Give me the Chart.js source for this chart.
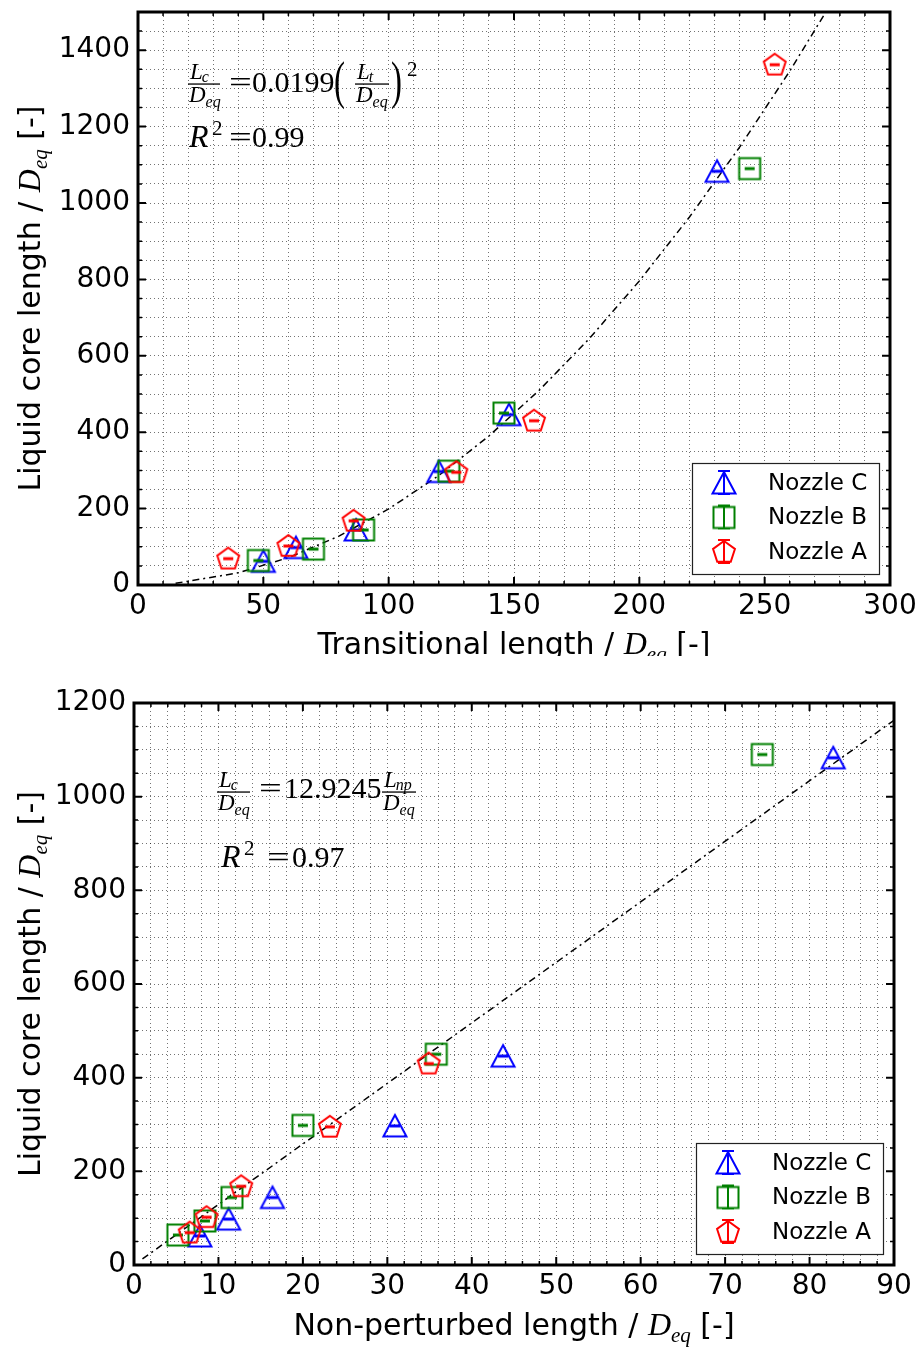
<!DOCTYPE html>
<html><head><meta charset="utf-8">
<script src="https://cdn.jsdelivr.net/npm/chart.js@4.4.0/dist/chart.umd.min.js"></script>
<style>
html,body{margin:0;padding:0;background:#fff;}
#wrap{position:relative;width:923px;height:1347px;overflow:hidden;background:#fff;}
.c{position:absolute;left:0;}
</style></head><body>
<div id="wrap">
<div class="c" style="top:0;"><canvas id="top" width="923" height="656"></canvas></div>
<div class="c" style="top:656px;"><canvas id="bot" width="923" height="691"></canvas></div>
</div>
<script>
// ---------------- DATA ----------------
const nozzleNames = ['Nozzle C', 'Nozzle B', 'Nozzle A'];
// liquid core length / D_eq (shared by both panels)
const coreC = [62, 98, 144, 297, 446, 1083];
const coreB = [64, 94, 144, 298, 450, 1090];
const coreA = [69, 102, 168, 295, 430, 1362];
// transitional length / D_eq (top panel)
const transC = [50, 63, 87, 120, 148, 231];
const transB = [48, 70, 90, 124, 146, 244];
const transA = [36, 60, 86, 127, 158, 254];
// non-perturbed length / D_eq (bottom panel)
const npC = [7.8, 11.2, 16.4, 30.9, 43.7, 82.8];
const npB = [5.2, 8.4, 11.6, 20.0, 35.8, 74.4];
const npA = [6.6, 8.6, 12.7, 23.2, 34.9];
// fit curves
const fitTopX = [15, 40, 60, 80, 100, 120, 140, 160, 180, 200, 220, 240, 260, 280];
const fitTopY = [4.5, 31.8, 71.6, 127.4, 199, 286.6, 390, 509.4, 644.8, 796, 963.2, 1146.2, 1345.2, 1560.2];
const fitBotX = [1, 90];
const fitBotY = [12.9, 1163.2];
// tick labels
const topXTicks = [0, 50, 100, 150, 200, 250, 300];
const topYTicks = [0, 200, 400, 600, 800, 1000, 1200, 1400];
const botXTicks = [0, 10, 20, 30, 40, 50, 60, 70, 80, 90];
const botYTicks = [0, 200, 400, 600, 800, 1000, 1200];

// ---------------- helpers ----------------
const zip = (xs, ys) => xs.map((x, i) => ({x: x, y: ys[i]}));
const COLORS = {C: '#0000ff', B: '#008000', A: '#ff0000'};
const SANS = '"DejaVu Sans"';
const SERIF = '"Liberation Serif"';

function makeMarker(type, color, legend) {
  const c = document.createElement('canvas');
  c.width = 40; c.height = 40;
  const g = c.getContext('2d');
  const cx = 20, cy = 20;
  g.strokeStyle = color; g.lineWidth = 2; g.lineJoin = 'miter';
  g.beginPath();
  if (type === 'tri') {
    g.moveTo(cx, cy - 11); g.lineTo(cx + 11.5, cy + 10.5); g.lineTo(cx - 11.5, cy + 10.5); g.closePath();
  } else if (type === 'sq') {
    g.rect(cx - 10.5, cy - 10.5, 21, 21);
  } else {
    const r = 11.5;
    for (let k = 0; k < 5; k++) {
      const a = -Math.PI / 2 + k * 2 * Math.PI / 5;
      const px = cx + r * Math.cos(a), py = cy + r * Math.sin(a) + 0.5;
      if (k === 0) g.moveTo(px, py); else g.lineTo(px, py);
    }
    g.closePath();
  }
  g.stroke();
  g.beginPath();
  if (!legend) {
    g.lineWidth = 3;
    g.moveTo(cx - 5, cy); g.lineTo(cx + 5, cy);
  } else {
    g.lineWidth = 2;
    g.moveTo(cx, cy - 12); g.lineTo(cx, cy + 11);
    g.moveTo(cx - 6, cy - 12); g.lineTo(cx + 6, cy - 12);
    g.moveTo(cx - 6, cy + 11); g.lineTo(cx + 6, cy + 11);
  }
  g.stroke();
  return c;
}
const MK = {
  C: makeMarker('tri', COLORS.C, false), B: makeMarker('sq', COLORS.B, false), A: makeMarker('pent', COLORS.A, false),
  LC: makeMarker('tri', COLORS.C, true), LB: makeMarker('sq', COLORS.B, true), LA: makeMarker('pent', COLORS.A, true)
};

function richWidth(ctx, parts) {
  let w = 0;
  parts.forEach(p => { ctx.font = p.font; w += ctx.measureText(p.t).width + (p.dx || 0); });
  return w;
}
function drawRich(ctx, parts, x, y, align) {
  let cx = x;
  if (align === 'center') cx = x - richWidth(ctx, parts) / 2;
  parts.forEach(p => {
    ctx.font = p.font;
    ctx.fillText(p.t, cx + (p.dx || 0), y + (p.dy || 0));
    cx += ctx.measureText(p.t).width + (p.dx || 0);
  });
}

// frame, inward ticks, legend, titles, equations
const decorPlugin = {
  id: 'decor',
  afterDraw(chart, args, o) {
    const ctx = chart.ctx;
    const a = chart.chartArea;
    const xs = chart.scales.x, ys = chart.scales.y;
    ctx.save();
    ctx.strokeStyle = '#000';
    xs.ticks.forEach(t => {
      const major = o.xMajor.indexOf(Math.round(t.value * 1000) / 1000) >= 0;
      const len = major ? 8 : 4;
      ctx.lineWidth = major ? 2 : 1.5;
      const px = xs.getPixelForValue(t.value);
      ctx.beginPath();
      ctx.moveTo(px, a.bottom); ctx.lineTo(px, a.bottom - len);
      ctx.moveTo(px, a.top); ctx.lineTo(px, a.top + len);
      ctx.stroke();
    });
    ys.ticks.forEach(t => {
      const major = o.yMajor.indexOf(Math.round(t.value)) >= 0;
      const len = major ? 8 : 4;
      ctx.lineWidth = major ? 2 : 1.5;
      const py = ys.getPixelForValue(t.value);
      ctx.beginPath();
      ctx.moveTo(a.left, py); ctx.lineTo(a.left + len, py);
      ctx.moveTo(a.right, py); ctx.lineTo(a.right - len, py);
      ctx.stroke();
    });
    ctx.lineWidth = 3;
    ctx.strokeRect(a.left, a.top, a.right - a.left, a.bottom - a.top);

    // legend
    const lw = 187, lh = 111;
    const lx = a.right - 11 - lw, ly = a.bottom - 11 - lh;
    ctx.fillStyle = '#fff';
    ctx.fillRect(lx, ly, lw, lh);
    ctx.lineWidth = 1.2; ctx.strokeStyle = '#222';
    ctx.strokeRect(lx + 0.5, ly + 0.5, lw, lh);
    const lm = [MK.LC, MK.LB, MK.LA];
    ctx.fillStyle = '#000';
    ctx.textBaseline = 'middle'; ctx.textAlign = 'left';
    ctx.font = '23px ' + SANS;
    nozzleNames.forEach((n, i) => {
      const ry = ly + 20 + i * 34.5;
      ctx.drawImage(lm[i], lx + 32 - 20, ry - 20);
      ctx.fillText(n, lx + 76, ry + 1);
    });

    // axis titles
    ctx.textBaseline = 'alphabetic';
    const titleFont = '30px ' + SANS;
    const dFont = 'italic 32px ' + SERIF;
    const subFont = 'italic 21px ' + SERIF;
    const xParts = [
      {t: o.xTitle + ' / ', font: titleFont},
      {t: 'D', font: dFont},
      {t: 'eq', font: subFont, dy: 7},
      {t: ' [-]', font: titleFont}
    ];
    drawRich(ctx, xParts, (a.left + a.right) / 2, o.xTitleY, 'center');
    const yParts = [
      {t: 'Liquid core length / ', font: titleFont},
      {t: 'D', font: dFont},
      {t: 'eq', font: subFont, dy: 7},
      {t: ' [-]', font: titleFont}
    ];
    ctx.save();
    ctx.translate(o.yTitleX, (a.top + a.bottom) / 2);
    ctx.rotate(-Math.PI / 2);
    drawRich(ctx, yParts, 0, 0, 'center');
    ctx.restore();

    o.drawEq(ctx, a);
    ctx.restore();
  }
};

function frac(ctx, x, barY, w, num, numSub, den, denSub) {
  ctx.fillStyle = '#000';
  ctx.fillRect(x, barY - 0.6, w, 1.3);
  ctx.font = 'italic 23px ' + SERIF;
  ctx.fillText(num, x + 2, barY - 5);
  const nw = ctx.measureText(num).width;
  ctx.fillText(den, x + 1, barY + 18);
  const dw = ctx.measureText(den).width;
  ctx.font = 'italic 16px ' + SERIF;
  ctx.fillText(numSub, x + 2 + nw - 1, barY - 2);
  ctx.fillText(denSub, x + 1 + dw, barY + 23);
}
function eqSign(ctx, x, baseY) {
  ctx.save();
  ctx.translate(x, baseY);
  ctx.scale(1.35, 1);
  ctx.font = '30px ' + SERIF;
  ctx.fillText('=', 0, 0);
  ctx.restore();
}
function paren(ctx, ch, x, baseY) {
  ctx.save();
  ctx.translate(x, baseY);
  ctx.scale(1, 1.6);
  ctx.font = '33px ' + SERIF;
  ctx.fillText(ch, 0, 0);
  ctx.restore();
}

function eqTop(ctx, a) {
  // positions relative to the plot area (left 138, top 8)
  const X = a.left - 138, Y = a.top - 8;
  const bar = Y + 80;
  ctx.fillStyle = '#000';
  ctx.textAlign = 'left'; ctx.textBaseline = 'alphabetic';
  frac(ctx, X + 188, bar, 32, 'L', 'c', 'D', 'eq');
  eqSign(ctx, X + 229, bar + 8);
  ctx.font = '30px ' + SERIF;
  ctx.fillText('0.0199', X + 252, bar + 8);
  paren(ctx, '(', X + 334, bar + 14);
  frac(ctx, X + 355, bar, 34, 'L', 't', 'D', 'eq');
  paren(ctx, ')', X + 391, bar + 14);
  ctx.font = '21px ' + SERIF;
  ctx.fillText('2', X + 407, bar - 8);
  // R^2
  ctx.font = 'italic 32px ' + SERIF;
  ctx.fillText('R', X + 189, Y + 143);
  ctx.font = '21px ' + SERIF;
  ctx.fillText('2', X + 212, Y + 131);
  eqSign(ctx, X + 229, Y + 143);
  ctx.font = '30px ' + SERIF;
  ctx.fillText('0.99', X + 252, Y + 143);
}
function eqBot(ctx, a) {
  // positions relative to the plot area (left 134, top 703 on the page)
  const X = a.left - 134, Y = a.top - 47;
  const bar = Y + 136;
  ctx.fillStyle = '#000';
  ctx.textAlign = 'left'; ctx.textBaseline = 'alphabetic';
  frac(ctx, X + 217, bar, 33, 'L', 'c', 'D', 'eq');
  eqSign(ctx, X + 259, bar + 6);
  ctx.font = '30px ' + SERIF;
  ctx.fillText('12.9245', X + 284, bar + 6);
  frac(ctx, X + 382, bar, 34, 'L', 'np', 'D', 'eq');
  ctx.font = 'italic 32px ' + SERIF;
  ctx.fillText('R', X + 221, Y + 211);
  ctx.font = '21px ' + SERIF;
  ctx.fillText('2', X + 244, Y + 199);
  eqSign(ctx, X + 267, Y + 211);
  ctx.font = '30px ' + SERIF;
  ctx.fillText('0.97', X + 292, Y + 211);
}

function makeChart(id, cfg) {
  const tickFont = {family: 'DejaVu Sans', size: 28};
  const gridCfg = {color: 'rgba(0,0,0,0.55)', lineWidth: 1, drawTicks: false};
  return new Chart(document.getElementById(id), {
    type: 'scatter',
    data: {
      datasets: [
        {label: 'Nozzle A', data: cfg.A, pointStyle: MK.A, pointRadius: 11, showLine: false},
        {label: 'Nozzle B', data: cfg.B, pointStyle: MK.B, pointRadius: 11, showLine: false},
        {label: 'Nozzle C', data: cfg.C, pointStyle: MK.C, pointRadius: 11, showLine: false},
        {label: 'fit', data: cfg.fit, showLine: true, pointRadius: 0, borderColor: '#000', borderWidth: 1.5,
         borderDash: [7, 4, 2, 4], fill: false, tension: 0}
      ]
    },
    options: {
      responsive: false, animation: false, devicePixelRatio: 1,
      layout: {padding: cfg.padding},
      plugins: {legend: {display: false}, tooltip: {enabled: false},
        decor: {xMajor: cfg.xMajor, yMajor: cfg.yMajor, xTitle: cfg.xTitle, xTitleY: cfg.xTitleY, yTitleX: cfg.yTitleX, drawEq: cfg.eq}},
      scales: {
        x: {type: 'linear', min: cfg.xMin, max: cfg.xMax,
            grid: Object.assign({}, gridCfg), border: {display: false, dash: [1, 3]},
            ticks: {stepSize: cfg.xStep, autoSkip: false, maxRotation: 0, padding: 5, color: '#000', font: tickFont,
                    callback: v => cfg.xMajor.indexOf(Math.round(v * 1000) / 1000) >= 0 ? String(Math.round(v)) : ''},
            afterFit: s => { s.height = cfg.xAxisH; s.paddingLeft = 0; s.paddingRight = 0; }},
        y: {type: 'linear', min: cfg.yMin, max: cfg.yMax,
            grid: Object.assign({}, gridCfg), border: {display: false, dash: [1, 3]},
            ticks: {stepSize: cfg.yStep, autoSkip: false, padding: 8, color: '#000', font: tickFont,
                    callback: v => cfg.yMajor.indexOf(Math.round(v)) >= 0 ? String(Math.round(v)) : ''},
            afterFit: s => { s.width = cfg.yAxisW; s.paddingTop = 0; s.paddingBottom = 0; }}
      }
    },
    plugins: [decorPlugin]
  });
}

Chart.defaults.font.family = 'DejaVu Sans';

makeChart('top', {
  A: zip(transA, coreA), B: zip(transB, coreB), C: zip(transC, coreC), fit: zip(fitTopX, fitTopY),
  xMin: 0, xMax: 300, xStep: 10, yMin: 0, yMax: 1500, yStep: 50,
  xMajor: topXTicks, yMajor: topYTicks,
  padding: {left: 0, top: 8, right: 33, bottom: 0}, xAxisH: 71, yAxisW: 138,
  xTitle: 'Transitional length', xTitleY: 654, yTitleX: 40, eq: eqTop
});
makeChart('bot', {
  A: zip(npA, coreA.slice(0, npA.length)), B: zip(npB, coreB), C: zip(npC, coreC), fit: zip(fitBotX, fitBotY),
  xMin: 0, xMax: 90, xStep: 2, yMin: 0, yMax: 1200, yStep: 50,
  xMajor: botXTicks, yMajor: botYTicks,
  padding: {left: 0, top: 47, right: 29, bottom: 0}, xAxisH: 82, yAxisW: 134,
  xTitle: 'Non-perturbed length', xTitleY: 679, yTitleX: 40, eq: eqBot
});
</script>
</body></html>
